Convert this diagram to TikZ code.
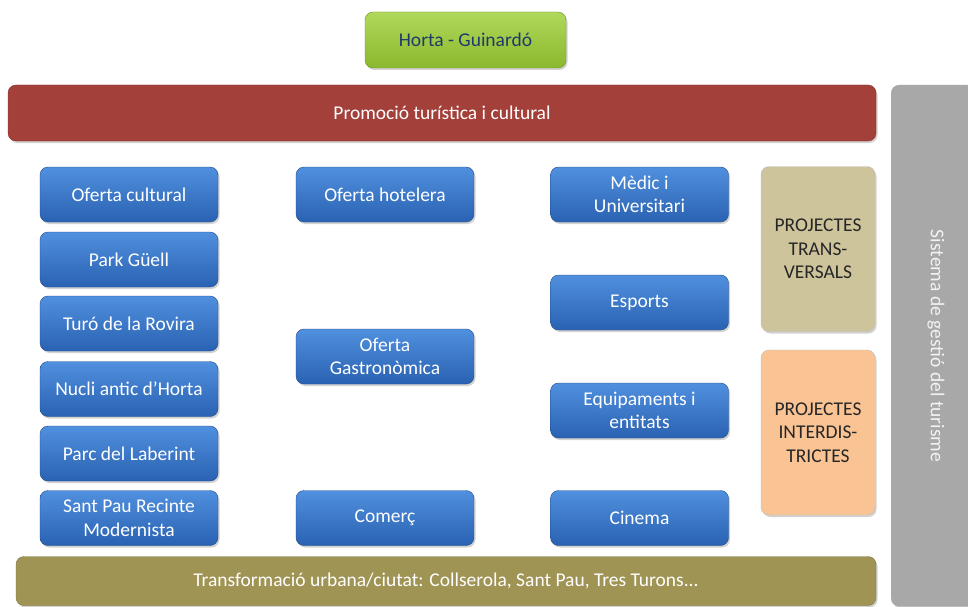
\documentclass[tikz,border=0pt]{standalone}
\usepackage{fontspec}
\setmainfont{Carlito}
\usetikzlibrary{shadows}
\definecolor{bluetop}{HTML}{5090DE}
\definecolor{bluebot}{HTML}{2A62B2}
\definecolor{greentop}{HTML}{B0D85A}
\definecolor{greenbot}{HTML}{8AB82E}
\definecolor{redbar}{HTML}{A4403A}
\definecolor{olivebar}{HTML}{A09454}
\definecolor{graybar}{HTML}{A8A8A8}
\definecolor{tanbox}{HTML}{CEC49C}
\definecolor{peachbox}{HTML}{FAC394}
\definecolor{darkblue}{HTML}{1F3A6A}
\begin{document}
\begin{tikzpicture}[x=1pt,y=-1pt,
  base/.style={rounded corners=8pt, font=\fontsize{19.5}{23.5}\selectfont, align=center, inner sep=0pt,
    drop shadow={shadow xshift=1.5pt, shadow yshift=-2pt, opacity=0.35}},
  bluebox/.style={base, top color=bluetop, bottom color=bluebot, draw=bluebot!80!black, line width=0.4pt, text=white,
    minimum width=178pt, minimum height=55pt},
  projbox/.style={base, draw=black!25, line width=0.4pt, text=black!85, minimum width=114pt, minimum height=165pt},
  bar/.style={base, text=white, minimum height=56pt}
]
\useasboundingbox (0,0) rectangle (968,607);
\fill[white] (0,0) rectangle (968,607);

% gray side bar
\node[base, fill=graybar, draw=black!35, minimum width=84pt, minimum height=521pt, anchor=north west] (sys) at (891,85) {};
\node[rotate=-90, text=white!85!graybar, font=\fontsize{19.5}{23.5}\selectfont] (systxt) at (936,346) {Sistema de gestió del turisme};

% top
\node[base, top color=greentop, bottom color=greenbot, draw=greenbot!80!black, minimum width=201pt, minimum height=56pt, text=darkblue] (horta) at (465.5,40) {Horta - Guinardó};
\node[bar, fill=redbar, draw=redbar!80!black, minimum width=868pt] (prom) at (442,113) {Promoció turística i cultural};
\node[bar, fill=olivebar, draw=olivebar!80!black, minimum width=860pt, minimum height=49pt] (transf) at (446,581) {Transformació urbana/ciutat: Collserola, Sant Pau, Tres Turons...};

% left column
\node[bluebox] (cult) at (129,194.5) {Oferta cultural};
\node[bluebox] (park) at (129,259.5) {Park Güell};
\node[bluebox] (turo) at (129,323.5) {Turó de la Rovira};
\node[bluebox] (nucli) at (129,389) {Nucli antic d’Horta};
\node[bluebox] (parc) at (129,453.5) {Parc del Laberint};
\node[bluebox] (stpau) at (129,518) {Sant Pau Recinte\\Modernista};

% middle column
\node[bluebox] (hotel) at (385,194.5) {Oferta hotelera};
\node[bluebox] (gastro) at (385,356.5) {Oferta\\Gastronòmica};
\node[bluebox] (comerc) at (385,518) {Comerç};

% right column
\node[bluebox] (medic) at (639.5,194.5) {Mèdic i\\Universitari};
\node[bluebox] (esports) at (639.5,302.5) {Esports};
\node[bluebox] (equip) at (639.5,410.5) {Equipaments i\\entitats};
\node[bluebox] (cinema) at (639.5,518) {Cinema};

% project boxes
\node[projbox, fill=tanbox] (transv) at (818,249) {PROJECTES\\TRANS-\\VERSALS};
\node[projbox, fill=peachbox] (interd) at (818,432.5) {PROJECTES\\INTERDIS-\\TRICTES};
\end{tikzpicture}
\end{document}
